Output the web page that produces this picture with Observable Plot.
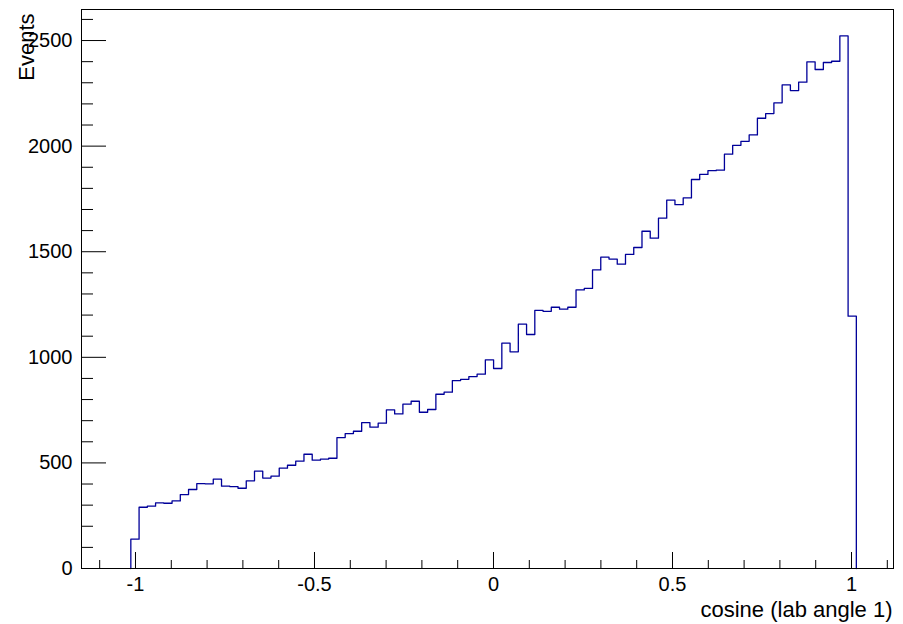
<!DOCTYPE html>
<html>
<head>
<meta charset="utf-8">
<script src="https://cdn.jsdelivr.net/npm/d3@7"></script>
<script src="https://cdn.jsdelivr.net/npm/@observablehq/plot@0.6"></script>
<style>
  html, body { margin: 0; padding: 0; background: #fff; }
</style>
</head>
<body>
<script>
// Histogram: 88 bins of cosine (lab angle 1)
const binLow = -1.013;
const binHigh = 1.0135;
const counts = [
  139, 290, 295, 311, 309, 320, 350, 374, 402, 401,
  423, 390, 388, 380, 415, 461, 428, 437, 475, 489,
  508, 541, 513, 518, 522, 620, 639, 650, 691, 669,
  688, 751, 732, 778, 792, 740, 753, 825, 835, 890,
  896, 909, 920, 988, 947, 1067, 1026, 1157, 1108, 1222,
  1218, 1237, 1228, 1237, 1319, 1326, 1414, 1474, 1465, 1441,
  1487, 1520, 1597, 1564, 1659, 1744, 1723, 1755, 1842, 1866,
  1884, 1886, 1962, 2004, 2023, 2053, 2132, 2154, 2205, 2290,
  2263, 2303, 2399, 2363, 2396, 2402, 2522, 1195
];

// Axis ticks and labels
const xMajorTicks = [-1, -0.5, 0, 0.5, 1];
const xMinorTicks = [-1.1, -0.9, -0.8, -0.7, -0.6, -0.4, -0.3, -0.2, -0.1,
                     0.1, 0.2, 0.3, 0.4, 0.6, 0.7, 0.8, 0.9, 1.1];
const yMajorTicks = [0, 500, 1000, 1500, 2000, 2500];
const yMinorTicks = [100, 200, 300, 400, 600, 700, 800, 900, 1100, 1200, 1300, 1400,
                     1600, 1700, 1800, 1900, 2100, 2200, 2300, 2400, 2600];
const xTitle = "cosine (lab angle 1)";
const yTitle = "Events";

// Build step outline from bins
const n = counts.length;
const w = (binHigh - binLow) / n;
const outline = [{x: binLow, y: 0}];
counts.forEach((c, i) => {
  outline.push({x: binLow + i * w, y: c});
  outline.push({x: binLow + (i + 1) * w, y: c});
});
outline.push({x: binHigh, y: 0});

const W = 903, H = 624;
const mL = 81, mR = 10, mT = 9, mB = 56;
const frameW = W - mL - mR, frameH = H - mT - mB;

const chart = Plot.plot({
  width: W,
  height: H,
  marginLeft: mL,
  marginRight: mR,
  marginTop: mT,
  marginBottom: mB,
  style: {fontFamily: "'Liberation Sans', Arial, Helvetica, sans-serif", fontSize: "20px", background: "#fff", color: "#000"},
  x: {domain: [-1.1508, 1.1173], ticks: xMajorTicks, tickSize: 0, tickPadding: 8, tickFormat: d => String(d), label: null},
  y: {domain: [0, 2647], ticks: yMajorTicks, tickSize: 0, tickPadding: 9, tickFormat: d => String(d), label: null},
  marks: [
    Plot.line(outline, {x: "x", y: "y", stroke: "#000099", strokeWidth: 1.3}),
    Plot.tickX(xMajorTicks, {x: d => d, insetTop: frameH - 16, stroke: "#000", strokeWidth: 1}),
    Plot.tickX(xMinorTicks, {x: d => d, insetTop: frameH - 8, stroke: "#000", strokeWidth: 1}),
    Plot.tickY(yMajorTicks, {y: d => d, insetRight: frameW - 25, stroke: "#000", strokeWidth: 1}),
    Plot.tickY(yMinorTicks, {y: d => d, insetRight: frameW - 12, stroke: "#000", strokeWidth: 1}),
    Plot.frame({stroke: "#000", strokeWidth: 1}),
    Plot.text([xTitle], {frameAnchor: "bottom-right", textAnchor: "end", lineAnchor: "bottom", dx: -1, dy: 48, fontSize: 22, fill: "#000"}),
    Plot.text([yTitle], {frameAnchor: "top-left", textAnchor: "end", lineAnchor: "bottom", rotate: -90, dx: -48, dy: 4, fontSize: 22, fill: "#000"})
  ]
});
document.body.appendChild(chart);
</script>
</body>
</html>
